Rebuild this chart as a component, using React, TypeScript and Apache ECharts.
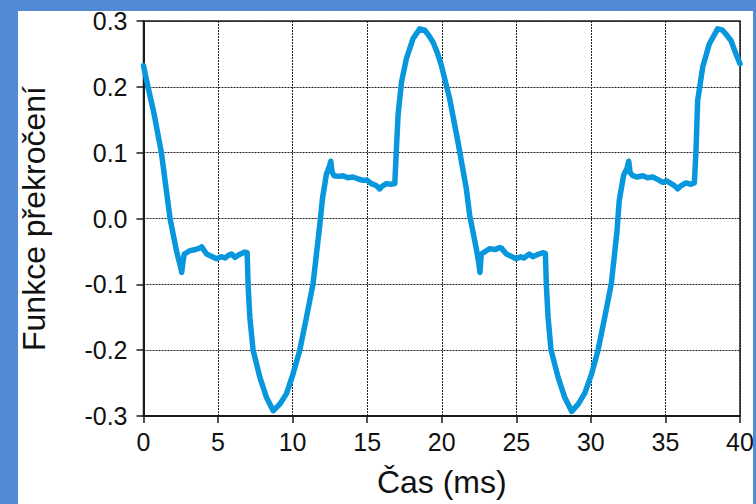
import React, { useEffect, useRef } from "react";
import * as echarts from "echarts";

const timeMs: number[] = [
  0, 0.3, 0.7, 1.2, 1.78, 2.22, 2.5, 2.56, 2.65, 2.73, 3.1, 3.5, 3.78, 3.9, 4.05, 4.23, 4.9, 5.2, 5.46, 5.7, 5.9, 6.13, 6.4, 6.8, 6.95,
  7.02, 7.13, 7.35, 7.8, 8.25, 8.7, 9.14, 9.59, 10.03, 10.48, 10.93, 11.37, 11.82, 12.0, 12.27, 12.45, 12.56, 12.65, 12.78, 13.1,
  13.38, 13.7, 14.05, 14.4, 14.72, 15.0, 15.28, 15.6, 15.84, 16.0, 16.29, 16.6, 16.85, 16.96, 17.07, 17.3, 17.63, 18.07, 18.52,
  18.86, 19.1, 19.41, 19.7, 19.97, 20.53, 21.09, 21.65, 21.87, 22.32, 22.5, 22.56, 22.65, 23.2, 23.6, 23.88, 24.0, 24.33, 24.99,
  25.3, 25.5, 25.88, 26.1, 26.4, 26.78, 26.95, 27.02, 27.13, 27.33, 27.8, 28.25, 28.72, 29.15, 29.6, 30.05, 30.48, 30.93, 31.37,
  31.75, 31.9, 32.2, 32.42, 32.54, 32.63, 32.81, 33.1, 33.48, 33.8, 34.15, 34.5, 34.82, 35.1, 35.38, 35.6, 35.82, 36.0, 36.38,
  36.7, 36.94, 37.05, 37.16, 37.5, 37.94, 38.5, 38.83, 39.1, 39.4, 39.73, 40,
];

const overshoot: number[] = [
  0.232, 0.2, 0.16, 0.1, 0.0, -0.05, -0.075, -0.082, -0.066, -0.054, -0.049, -0.047, -0.045, -0.043, -0.048, -0.054, -0.061,
  -0.058, -0.06, -0.056, -0.054, -0.059, -0.055, -0.051, -0.052, -0.104, -0.15, -0.2, -0.241, -0.272, -0.292, -0.282, -0.266,
  -0.236, -0.2, -0.15, -0.099, -0.01, 0.03, 0.068, 0.078, 0.087, 0.07, 0.065, 0.064, 0.065, 0.062, 0.063, 0.06, 0.058, 0.058,
  0.053, 0.05, 0.045, 0.049, 0.053, 0.052, 0.053, 0.106, 0.157, 0.207, 0.243, 0.273, 0.288, 0.286, 0.279, 0.268, 0.252, 0.233,
  0.182, 0.116, 0.045, 0.005, -0.046, -0.07, -0.082, -0.054, -0.046, -0.047, -0.044, -0.045, -0.054, -0.061, -0.058, -0.06,
  -0.054, -0.058, -0.055, -0.052, -0.053, -0.104, -0.15, -0.2, -0.241, -0.272, -0.293, -0.282, -0.265, -0.236, -0.2, -0.15,
  -0.099, -0.02, 0.027, 0.066, 0.076, 0.087, 0.07, 0.065, 0.063, 0.065, 0.062, 0.063, 0.059, 0.055, 0.057, 0.053, 0.05, 0.045,
  0.049, 0.054, 0.052, 0.054, 0.103, 0.179, 0.23, 0.265, 0.288, 0.286, 0.279, 0.27, 0.25, 0.235,
];

const xTicks = { min: 0, max: 40, interval: 5 };
const yTicks = { min: -0.3, max: 0.3, interval: 0.1 };

const FONT = "'Liberation Sans', Arial, sans-serif";

export default function App() {
  const ref = useRef<HTMLDivElement>(null);

  useEffect(() => {
    if (!ref.current) return;
    const chart = echarts.init(ref.current, undefined, { renderer: "svg" });
    const data = timeMs.map((t, i) => [t, overshoot[i]]);
    chart.setOption({
      animation: false,
      backgroundColor: "transparent",
      grid: {
        left: 143.5,
        top: 21,
        right: 16,
        bottom: 88,
        containLabel: false,
        outerBoundsMode: "none",
        show: true,
        borderColor: "#1a1a1a",
        borderWidth: 1.5,
        backgroundColor: "transparent",
      },
      xAxis: {
        type: "value",
        min: xTicks.min,
        max: xTicks.max,
        interval: xTicks.interval,
        name: "Čas (ms)",
        nameLocation: "middle",
        nameGap: 50,
        nameTextStyle: { fontFamily: FONT, fontSize: 32, color: "#111" },
        axisLine: { show: true, onZero: false, lineStyle: { color: "#1a1a1a", width: 2 } },
        axisTick: { show: true, inside: false, length: 7, lineStyle: { color: "#1a1a1a", width: 1.5 } },
        axisLabel: { fontFamily: FONT, fontSize: 25, color: "#111", margin: 13 },
        splitLine: { show: true, lineStyle: { color: "#222", width: 1, type: [2, 1] } },
      },
      yAxis: {
        type: "value",
        min: yTicks.min,
        max: yTicks.max,
        interval: yTicks.interval,
        name: "Funkce překročení",
        nameLocation: "middle",
        nameGap: 94,
        nameTextStyle: { fontFamily: FONT, fontSize: 32, color: "#111" },
        axisLine: { show: true, onZero: false, lineStyle: { color: "#1a1a1a", width: 2 } },
        axisTick: { show: true, inside: false, length: 7, lineStyle: { color: "#1a1a1a", width: 1.5 } },
        axisLabel: {
          fontFamily: FONT,
          fontSize: 25,
          color: "#111",
          margin: 16,
          formatter: (v: number) => (Math.abs(v) < 1e-9 ? "0.0" : v.toFixed(1)),
        },
        splitLine: { show: true, lineStyle: { color: "#222", width: 1, type: [2, 1] } },
      },
      series: [
        {
          type: "line",
          data,
          showSymbol: false,
          symbol: "none",
          lineStyle: { color: "#0897dc", width: 5.5, cap: "round", join: "round" },
          z: 5,
        },
      ],
    });
    return () => chart.dispose();
  }, []);

  return (
    <div
      style={{
        position: "fixed",
        left: 0,
        top: 0,
        width: 756,
        height: 504,
        background: "#528ad4",
        overflow: "hidden",
      }}
    >
      <div
        style={{
          position: "absolute",
          left: 18,
          top: 11,
          width: 735,
          height: 493,
          background: "#ffffff",
        }}
      />
      <div ref={ref} style={{ position: "absolute", left: 0, top: 0, width: 756, height: 504 }} />
    </div>
  );
}
